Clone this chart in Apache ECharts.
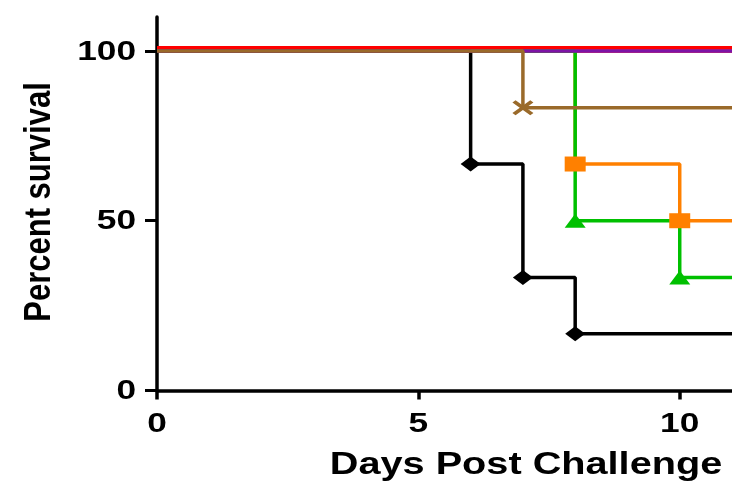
<!DOCTYPE html>
<html>
<head>
<meta charset="utf-8">
<script src="https://cdn.jsdelivr.net/npm/echarts@6/dist/echarts.min.js"></script>
<style>
  html, body { margin: 0; padding: 0; background: #fff; }
  #chart { width: 732px; height: 484px; }
</style>
</head>
<body>
<div id="chart"></div>
<script>
// Kaplan-Meier survival curves, percent surviving per day after challenge
const xTicks = [0, 5, 10];
const yTicks = [0, 50, 100];
const xTitle = 'Days Post Challenge';
const yTitle = 'Percent survival';

const redDays = [0, 11];
const redSurv = [100, 100];

const purpleDays = [0, 11];
const purpleSurv = [100, 100];

const orangeDays = [0, 8, 10, 11];
const orangeSurv = [100, 66.7, 50, 50];

const greenDays = [0, 8, 10, 11];
const greenSurv = [100, 50, 33.3, 33.3];

const blackDays = [0, 6, 7, 8, 11];
const blackSurv = [100, 66.7, 33.3, 16.7, 16.7];

const brownDays = [0, 7, 11];
const brownSurv = [100, 83.3, 83.3];

const FONT = 'bold 28px "Liberation Sans", Arial, sans-serif';
const CROSS = 'path://M0,1.5L1.5,0L5,3.5L8.5,0L10,1.5L6.5,5L10,8.5L8.5,10L5,6.5L1.5,10L0,8.5L3.5,5Z';
const LINE_W = 3.5;

// markers sit only on the drop points, not on the start or the end of a curve
function stepData(days, surv, symbol) {
  const last = days.length - 1;
  return days.map((d, i) => ({
    value: [d, surv[i]],
    symbol: (i === 0 || i === last) ? 'none' : symbol
  }));
}

function curve(name, days, surv, color, symbol, size, extraLine) {
  return {
    name: name,
    type: 'line',
    step: 'end',
    data: stepData(days, surv, symbol),
    symbolSize: size,
    showAllSymbol: true,
    lineStyle: Object.assign({ color: color, width: LINE_W }, extraLine || {}),
    itemStyle: { color: color },
    emphasis: { disabled: true },
    animation: false
  };
}

const chart = echarts.init(document.getElementById('chart'), null, { renderer: 'canvas' });

chart.setOption({
  backgroundColor: '#ffffff',
  animation: false,
  grid: { left: 157, top: 17, width: 579.7, bottom: 93.5, containLabel: false },
  xAxis: {
    type: 'value', min: 0, max: 11,
    axisLine: { show: true, onZero: false, lineStyle: { color: '#000', width: 3.5 } },
    axisTick: { show: true, customValues: xTicks, length: 9, lineStyle: { color: '#000', width: 3.5 } },
    axisLabel: { show: false },
    splitLine: { show: false }
  },
  yAxis: {
    type: 'value', min: 0, max: 110,
    axisLine: { show: true, lineStyle: { color: '#000', width: 3.5 } },
    axisTick: { show: true, customValues: yTicks, length: 12, lineStyle: { color: '#000', width: 3 } },
    axisLabel: { show: false },
    splitLine: { show: false }
  },
  series: [
    // red sits just above the other 100% lines, drawn as an offset copy
    curve('Red', redDays, redSurv, 'rgba(0,0,0,0)', 'none', 0,
      { shadowColor: '#ff0000', shadowBlur: 0, shadowOffsetY: -3.3, color: '#ff0000' }),
    curve('Orange', orangeDays, orangeSurv, '#ff8000', 'rect', [21, 15]),
    curve('Green', greenDays, greenSurv, '#00c000', 'triangle', [21, 14]),
    curve('Black', blackDays, blackSurv, '#000000', 'diamond', [20, 15]),
    curve('Purple', purpleDays, purpleSurv, '#7d14a6', 'none', 0),
    curve('Brown', brownDays, brownSurv, '#9a6a2a', CROSS, [21, 15])
  ]
});

// tick labels and axis titles, placed through the axis scales
const px = v => chart.convertToPixel({ xAxisIndex: 0 }, v);
const py = v => chart.convertToPixel({ yAxisIndex: 0 }, v);
const axisX = px(0);
const axisY = py(0);

const graphics = [];
xTicks.forEach(t => {
  graphics.push({
    type: 'text', x: px(t), y: axisY + 34, scaleX: 1.26, silent: true,
    style: { text: String(t), font: FONT, fill: '#000',
             align: 'center', verticalAlign: 'middle',
             textAlign: 'center', textVerticalAlign: 'middle' }
  });
});
yTicks.forEach(t => {
  graphics.push({
    type: 'text', x: axisX - 21, y: py(t) + 1, scaleX: 1.26, silent: true,
    style: { text: String(t), font: FONT, fill: '#000',
             align: 'right', verticalAlign: 'middle',
             textAlign: 'right', textVerticalAlign: 'middle' }
  });
});
graphics.push({
  type: 'text', x: 526, y: 465, scaleX: 1.24, silent: true,
  style: { text: xTitle, font: 'bold 32px "Liberation Sans", Arial, sans-serif', fill: '#000',
           align: 'center', verticalAlign: 'middle',
           textAlign: 'center', textVerticalAlign: 'middle' }
});
graphics.push({
  type: 'text', x: 40, y: 202, rotation: Math.PI / 2, scaleY: 1.22, silent: true,
  style: { text: yTitle, font: 'bold 31px "Liberation Sans", Arial, sans-serif', fill: '#000',
           align: 'center', verticalAlign: 'middle',
           textAlign: 'center', textVerticalAlign: 'middle' }
});

chart.setOption({ graphic: graphics });
</script>
</body>
</html>
